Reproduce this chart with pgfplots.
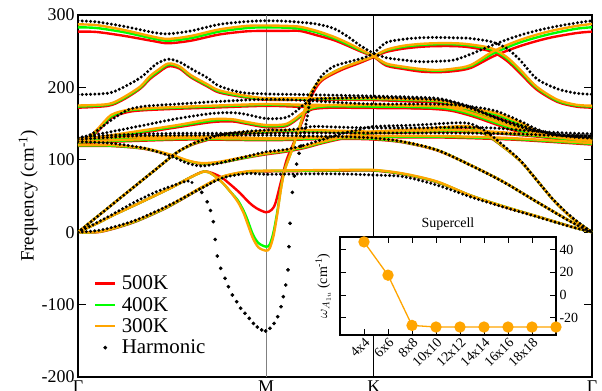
\documentclass[border=0pt]{standalone}
\usepackage{fontspec}
\setmainfont{Liberation Serif}
\usepackage{pgfplots}
\usepackage{pgfplotstable}
\pgfplotsset{compat=1.18}
\definecolor{c500}{RGB}{255,0,0}
\definecolor{c400}{RGB}{0,255,0}
\definecolor{c300}{RGB}{255,165,0}

% x: Gamma=0, M=1, K=1.574, Gamma=2.734 ; columns: harmonic, 500K, 400K, 300K
\pgfplotstableread{
x h r5 r4 r3
0 292 277 283 287
0.1 290.5 276.5 282 286
0.25 284 271 276 279
0.4 276 264 267.5 270
0.48 274 261 264.5 267
0.6 278 264.5 268 271
0.75 287 273 277 280
0.9 291 277.5 282 285
1.0 292 278 283 285.5
1.1 291.5 278 282.5 285
1.18 290 278 281 283.8
1.27 287.5 272 276 278
1.36 281.5 265.4 268 270
1.43 271 258 260 262
1.5 258 250 251.5 253
1.574 247 242 243 243
1.64 241 230 232 233
1.73 237.8 225.5 227.5 228.6
1.82 235.5 222 224.5 225.5
1.91 236 221 223 224
2.0 237.8 222.5 225 226
2.09 246 227 229.5 231
2.21 259 243 247 250
2.35 272 257 262 265.4
2.5 282 268 273 277
2.65 289 275 281 284.8
2.734 292 277 283 287.6
}\Bone
\pgfplotstableread{
x h r5 r4 r3
1.574 247 242 243 243
1.64 262 249 251 252
1.73 266.4 253.5 256 257.5
1.82 268.5 256 258.5 260
1.9 269 257 259.5 261
2.0 268.5 257 259.5 261
2.08 267.8 255.5 258 259.5
2.2 263 249.5 252 254
2.28 254 237 240 242
2.35 238 220 223 225
2.44 212 197 199.5 201
2.55 198 180 181.5 183
2.65 192 173.5 175 176
2.734 190.4 172 173.5 174.7
}\Bonebis
\pgfplotstableread{
x h r5 r4 r3
0 190 172 173.5 175
0.16 192 174.5 176 177
0.24 200 183 184.5 186
0.33 213 198 199.5 201
0.38 224 211 213 215
0.42 233 219 221 223
0.48 239 229 231.5 233
0.54 235 226 228 229
0.6 226 214 215.5 217
0.69 213 201 202.5 204
0.75 202 193 194.5 196
0.87 193 187 188 189.5
1.0 191 183 184 185
1.2 190 183 184 185
1.4 189 183 184 185
1.574 188 182.5 184 185
1.73 187 181 183 184
1.91 185 179 181 182
2.0 180 174 176 177
2.09 173 167 169 170
2.17 164 159 161 162
2.26 155 150 152 153
2.35 148 143 145 146
2.45 140 135.5 137 138
2.55 134 129.5 131 132
2.65 131 126 127 128
2.734 130 124.5 125.5 126
}\Btwo
\pgfplotstableread{
x h r5 r4 r3
0 130 125 126.5 127
0.06 134 129.5 131 132
0.106 141 139.5 141.5 143
0.177 155 158 160 162
0.266 169 166 168 169
0.355 174 168.5 170 171
0.53 177 170.5 172 173
0.71 180 172 173.5 174.7
1.0 183.5 174.5 176 177
1.2 182 173 175 176
1.4 179 172 174 175.6
1.574 177 171.5 173.5 175.6
1.8 177 171 173 175
2.0 176 169 171 173
2.2 169 162 164 166
2.3 159.5 153 155 157
2.38 150 144.5 146 148
2.43 143.5 138 139.5 141
2.5 137 132 133 134
2.6 133 128 129 130
2.734 131 126 127 128
}\Bthree
\pgfplotstableread{
x h r5 r4 r3
0 130 125 126 127
0.177 138.8 131 132.5 134
0.355 148 138 139.5 141
0.53 157 145 146.5 148
0.71 164 152 154 156
0.82 165 153 155 156
0.89 163 150 151.5 152.6
1.0 157 145 146.5 148
1.1 158 146 147.5 149
1.15 165 153 154.5 156
1.2 176 163 164.5 166
1.25 183 170 171.5 173
1.35 185 172 174 175.6
1.574 186 173 174.5 176
1.73 185 172 173.5 175
1.91 183 170 172 174
2.0 179 167 169 171
2.1 170 160 162 164
2.2 160 151 153 155
2.3 150 142 144 146
2.4 142 135 137 139
2.5 137 130.5 132 134
2.6 134 127.5 129 131
2.734 133 126.5 128 130
}\Bfour
\pgfplotstableread{
x h r5 r4 r3
0 131 127 128 129
0.18 134 129 130 131
0.35 135.5 130 131 132
0.53 136.6 130 131 132
0.7 136.6 130 131 132
1.0 136.6 128 129 130
1.2 137 129 130 131
1.4 137 130 131 132
1.574 137 131 132 133
1.8 137 131 132 133
2.0 137 130.5 131.5 132.5
2.3 136 128 129 130
2.5 134 125 126 127
2.734 133 121 122 123
}\Bfive
\pgfplotstableread{
x h r5 r4 r3
0 0 0 0 0
0.1 21 21 21 21
0.2 42 42 42 42
0.3 63 63 63 63
0.41 86 86 86 86
0.52 109 109 109 109
0.6 121 120 120.5 121
0.67 128 126 127 128
0.8 136.6 134 135 136
1.0 141 138 139 140
1.1 141 139 140 141
1.18 143 139 140 141
1.25 146 139 140 141
1.4 145 138 139 140
1.574 144 137 138 139
1.8 144 138 139 140
2.0 145 139 140 141
2.2 144 137 138 139
2.4 140 133 134 135
2.6 137 128 129 130
2.734 136 125 126 127
}\Bseven
\pgfplotstableread{
x h r5 r4 r3
0 128 123 124 125
0.3 133 126 127 128
0.6 134 128 129 130
1.0 134 127 128 129
1.2 133 128 129 130
1.4 132 129 130 131
1.574 130 128 129 130
1.73 125 124 124.5 125
1.91 113.5 113 113.5 113.5
2.085 92.8 93 93 93
2.26 69.7 70 70 70
2.44 42 42 42 42
2.62 14.5 15 15 15
2.734 0 0 0 0
}\Bx
\pgfplotstableread{
x h r5 r4 r3
0 125 119 120 120.4
0.177 122.8 119 119.5 120.4
0.355 115.9 115 115.5 115.9
0.5 104.3 105.5 106 106.6
0.585 95 98 98.5 99
0.656 91.4 94.5 95 95.5
0.745 95 95.5 96 97
0.887 104 102.5 103 104
1.0 111 107.5 108.5 109
1.1 114 111 112 113
1.2 120 116 117 118
1.3 128 123 124 125
1.4 136 129 130 131
1.5 142 134 135 136
1.574 146 137 138 139
1.8 148 140 141 142
2.0 151 144 145 146
2.085 150 144 145 146
2.16 141 136 137 138
2.23 127 124 124.5 125
2.35 99.7 99 99 99
2.44 72 72 72 72
2.53 44.5 44 44 44
2.63 20 19 19 19
2.734 0 0 0 0
}\Bsix
\pgfplotstableread{
x h r5 r4 r3
0 0 0 0 0
0.12 3 0.5 1 1
0.29 15 13 13.5 14
0.45 33 31 31.5 32
0.55 46 45 45.5 46
0.65 60 60 60.5 61
0.77 75 76 76.5 77
0.9 81 83 83.5 84
1.0 80 84 84.5 85
1.2 80.5 84.5 85 85.5
1.4 80.5 85 85.5 86
1.574 79 85 85.5 86
1.73 76.7 80 80.5 81
1.91 65 69 69.5 70
2.085 49 51 51 51
2.26 35 35.5 36 36
2.44 21.4 22 22 22
2.62 7.6 8 8 8
2.734 0 0 0 0
}\Bza
\pgfplotstableread{
x y
0 0
0.1 12
0.2 25
0.34 42
0.5 62
0.6 76
0.675 84
0.72 79
0.77 68
0.81 56
0.85 42
0.88 27
0.9 13
0.93 -8
0.96 -21
1.0 -25.5
1.02 -22
1.04 -5
1.06 25
1.08 60
1.1 86
1.14 115
1.19 155
1.234 190
1.29 210
1.39 225
1.5 236
1.574 243
}\SoftThree
\pgfplotstableread{
x y
0 0
0.1 12
0.2 25
0.34 42
0.5 62
0.6 76
0.675 84
0.72 79
0.77 68
0.81 56
0.85 44
0.88 30
0.9 18
0.93 -3
0.96 -15
1.0 -20
1.02 -17
1.04 0
1.06 28
1.08 62
1.1 87
1.14 115
1.19 155
1.234 190
1.29 210
1.39 225
1.5 236
1.574 243
}\SoftFour
\pgfplotstableread{
x y
0 0
0.1 12
0.2 25
0.34 42
0.5 62
0.6 76
0.675 84
0.755 77
0.81 66
0.862 54
0.91 41
0.95 33
1.0 27.5
1.03 31
1.05 40
1.08 70
1.11 100
1.15 125
1.2 158
1.25 192
1.3 210
1.4 224
1.5 234
1.574 242
}\SoftFive
\pgfplotstableread{
x y
0 0
0.1 13
0.2 27
0.29 40
0.4 54
0.5 64
0.57 70
0.6 70
0.622 65
}\SoftHa
\pgfplotstableread{
x y
0.658 55
0.687 42
0.705 30
0.72 14.5
0.73 -10
0.741 -32.9
0.759 -49.9
0.782 -63.7
0.8 -75.3
0.821 -86.7
0.844 -96
0.865 -105
0.888 -112
0.911 -119
0.933 -126
0.954 -131
0.977 -135
0.998 -136.5
1.021 -132.7
1.043 -126
1.062 -116.7
1.08 -102.9
1.092 -89
1.105 -73
1.117 -52
1.122 -20
1.128 12.3
1.14 55
1.151 77.6
1.163 94
1.176 109
1.186 119
}\SoftHb
\pgfplotstableread{
x y
1.2 132
1.22 160
1.24 188
1.27 206
1.3 217
1.36 229
1.45 236
1.52 241
1.574 247
}\SoftHc

\pgfplotsset{
  t5/.style={color=c500, line width=2.4bp, smooth, mark=none, forget plot},
  t4/.style={color=c400, line width=2.4bp, smooth, mark=none, forget plot},
  t3/.style={color=c300, line width=2.4bp, smooth, mark=none, forget plot},
  hd/.style={black, line width=3.3bp, dash pattern=on 0bp off 4.2bp, line cap=round, smooth, mark=none, forget plot},
}

\begin{document}
\begin{tikzpicture}
\begin{axis}[
  at={(0,0)}, anchor=south west,
  width=514bp, height=362bp, scale only axis,
  xmin=0, xmax=2.734, ymin=-200, ymax=300,
  xtick={0,1,1.574,2.734}, xticklabels={Γ,M,K,Γ},
  ytick={-200,-100,0,100,200,300},
  tick align=inside, major tick length=8bp,
  xtick style={draw=none},
  ytick style={black, line width=1bp},
  axis line style={line width=1.4bp},
  tick label style={font=\fontsize{18}{18}\selectfont},
  /pgf/number format/assume math mode=true,
  ylabel={Frequency (cm\textsuperscript{-1})},
  ylabel style={font=\fontsize{19}{19}\selectfont, at={(axis description cs:-0.097,0.5)}, anchor=center},
  legend style={at={(axis description cs:0.025,0.29)}, anchor=north west, draw=none, fill=none,
     font=\fontsize{21}{21}\selectfont, row sep=3bp, nodes={inner sep=1.5bp}},
  legend cell align=left,
]
\draw[gray, line width=1bp] (axis cs:1,-200) -- (axis cs:1,300);
\draw[black, line width=1bp] (axis cs:1.574,-200) -- (axis cs:1.574,300);

% 500K
\addplot[t5] table[x=x,y=r5]{\Bone};
\addplot[t5] table[x=x,y=r5]{\Bonebis};
\addplot[t5] table[x=x,y=r5]{\Btwo};
\addplot[t5] table[x=x,y=r5]{\Bthree};
\addplot[t5] table[x=x,y=r5]{\Bfour};
\addplot[t5] table[x=x,y=r5]{\Bfive};
\addplot[t5] table[x=x,y=r5]{\Bseven};
\addplot[t5] table[x=x,y=r5]{\Bx};
\addplot[t5] table[x=x,y=r5]{\Bsix};
\addplot[t5] table[x=x,y=r5]{\Bza};
\addplot[t5] table[x=x,y=y]{\SoftFive};
% 400K
\addplot[t4] table[x=x,y=r4]{\Bone};
\addplot[t4] table[x=x,y=r4]{\Bonebis};
\addplot[t4] table[x=x,y=r4]{\Btwo};
\addplot[t4] table[x=x,y=r4]{\Bthree};
\addplot[t4] table[x=x,y=r4]{\Bfour};
\addplot[t4] table[x=x,y=r4]{\Bfive};
\addplot[t4] table[x=x,y=r4]{\Bseven};
\addplot[t4] table[x=x,y=r4]{\Bx};
\addplot[t4] table[x=x,y=r4]{\Bsix};
\addplot[t4] table[x=x,y=r4]{\Bza};
\addplot[t4] table[x=x,y=y]{\SoftFour};
% 300K
\addplot[t3] table[x=x,y=r3]{\Bone};
\addplot[t3] table[x=x,y=r3]{\Bonebis};
\addplot[t3] table[x=x,y=r3]{\Btwo};
\addplot[t3] table[x=x,y=r3]{\Bthree};
\addplot[t3] table[x=x,y=r3]{\Bfour};
\addplot[t3] table[x=x,y=r3]{\Bfive};
\addplot[t3] table[x=x,y=r3]{\Bseven};
\addplot[t3] table[x=x,y=r3]{\Bx};
\addplot[t3] table[x=x,y=r3]{\Bsix};
\addplot[t3] table[x=x,y=r3]{\Bza};
\addplot[t3] table[x=x,y=y]{\SoftThree};
% harmonic
\addplot[hd] table[x=x,y=h]{\Bone};
\addplot[hd] table[x=x,y=h]{\Bonebis};
\addplot[hd] table[x=x,y=h]{\Btwo};
\addplot[hd] table[x=x,y=h]{\Bthree};
\addplot[hd] table[x=x,y=h]{\Bfour};
\addplot[hd] table[x=x,y=h]{\Bfive};
\addplot[hd] table[x=x,y=h]{\Bseven};
\addplot[hd] table[x=x,y=h]{\Bx};
\addplot[hd] table[x=x,y=h]{\Bsix};
\addplot[hd] table[x=x,y=h]{\Bza};
\addplot[hd] table[x=x,y=y]{\SoftHa};
\addplot[hd] table[x=x,y=y]{\SoftHc};
\addplot[only marks, mark=*, mark size=1.65bp, black, forget plot] table[x=x,y=y]{\SoftHb};

\addlegendimage{legend image code/.code={\draw[c500, line width=2.5bp] (0bp,0bp) -- (20bp,0bp); \path[draw=none, fill=none] (0bp,0bp) rectangle (25bp,0.1bp);}}
\addlegendentry{500K}
\addlegendimage{legend image code/.code={\draw[c400, line width=2.5bp] (0bp,0bp) -- (20bp,0bp); \path[draw=none, fill=none] (0bp,0bp) rectangle (25bp,0.1bp);}}
\addlegendentry{400K}
\addlegendimage{legend image code/.code={\draw[c300, line width=2.5bp] (0bp,0bp) -- (20bp,0bp); \path[draw=none, fill=none] (0bp,0bp) rectangle (25bp,0.1bp);}}
\addlegendentry{300K}
\addlegendimage{legend image code/.code={\fill[black] (10bp,0bp) circle (1.7bp); \path[draw=none, fill=none] (0bp,0bp) rectangle (25bp,0.1bp);}}
\addlegendentry{Harmonic}
\end{axis}

\begin{axis}[
  at={(262bp,42bp)}, anchor=south west,
  width=216bp, height=98bp, scale only axis,
  xmin=0, xmax=9, ymin=-35, ymax=51,
  xtick={1,2,3,4,5,6,7,8},
  xticklabels={4x4,6x6,8x8,10x10,12x12,14x14,16x16,18x18},
  x tick label style={rotate=45, anchor=north east, font=\fontsize{14}{14}\selectfont, inner sep=1bp},
  ytick={-20,0,20,40}, yticklabel pos=right,
  y tick label style={font=\fontsize{14}{14}\selectfont},
  tick align=inside, major tick length=6bp,
  xtick pos=both, ytick pos=both,
  tick style={black, line width=0.9bp},
  axis line style={line width=1.2bp},
  axis background/.style={fill=white},
  title={Supercell}, title style={font=\fontsize{14}{14}\selectfont, yshift=-3bp},
  ylabel={$\omega_{A_{1u}}$ (cm\textsuperscript{-1})},
  ylabel style={at={(axis description cs:-0.078,0.5)}, anchor=center, font=\fontsize{14}{14}\selectfont},
  clip=false,
  /pgf/number format/assume math mode=true,
]
\addplot[c300, line width=1.3bp, mark=*, mark size=5bp, mark options={fill=c300, draw=c300}]
  coordinates {(1,46.7)(2,17.5)(3,-26.6)(4,-28)(5,-28)(6,-28)(7,-28)(8,-28)(9,-28)};
\end{axis}
\pgfresetboundingbox
\path[use as bounding box] (-78bp,-14bp) rectangle (524bp,377bp);
\end{tikzpicture}
\end{document}
